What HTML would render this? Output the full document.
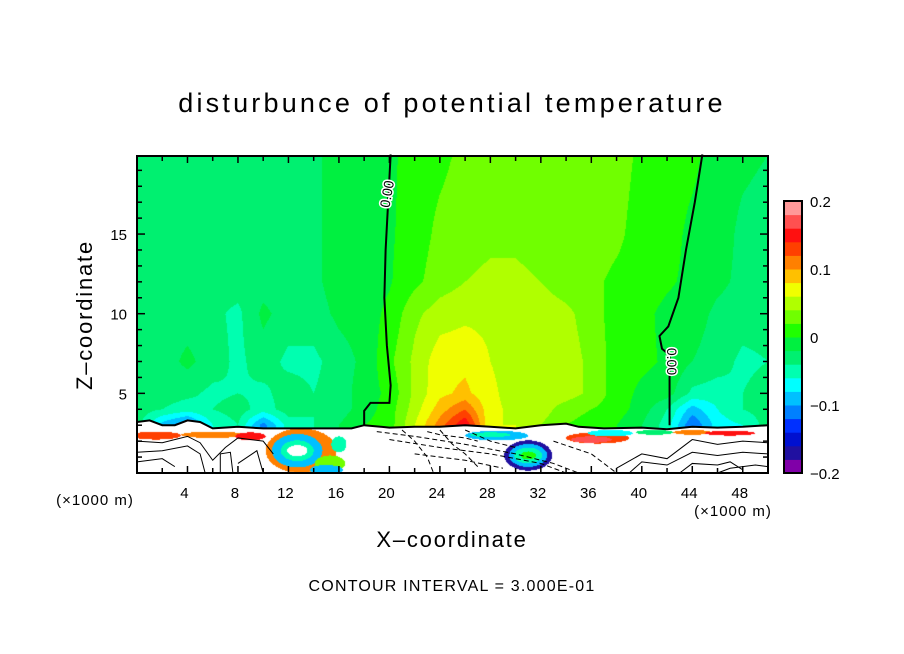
<!DOCTYPE html>
<html><head><meta charset="utf-8"><style>
body{margin:0;background:#fff;width:904px;height:654px;overflow:hidden;font-family:"Liberation Sans",sans-serif}
#root{position:relative;width:904px;height:654px}
canvas{position:absolute;left:137px;top:156px}
svg{position:absolute;left:0;top:0}
</style></head><body><div id="root">
<canvas id="cv" width="631" height="317"></canvas>
<svg id="sv" width="904" height="654"></svg>
</div>
<script>
// ---- data ----
const xGrid=[0,2,4,6,8,10,12,14,16,18,20,22,24,26,28,30,32,34,36,38,40,42,44,46,48,50];
const zGrid=[3,4,5,7,10,12,15,20];
const row3 =[-3,-9,-12,-6,-4,-11,-5,-4,-2,0,1,6,11,16,6,6,4,2,1,0,-2,-5,-12,-7,-6,-3];
const row4 =[-3,-4,-5,-4,-3,-5,-3,-4,-3,-1,1,5,9,12,6.5,5.5,5,3,2,1,-1,-4,-9,-6,-4,-3];
const row5 =[-3,-3,-3.5,-4.5,-4,-4.5,-3,-4,-3,-1,0.5,4.5,7.5,8.5,6.5,5,5,5,3.5,1,-0.5,-1,-4.5,-5,-4,-3];
const row7 =[-3,-3,-1.5,-3,-4.5,-3,-4.5,-4.5,-3,-1.5,1.5,4.5,7.2,7.5,6,5,5,5,3.5,1,0.5,-0.3,-2,-3,-4.5,-4];
const row10=[-3,-3,-3,-3.5,-4.5,-1.5,-3,-3,-1.5,-1,0.5,3.5,5,5.5,5.5,5,5,4.5,3,1,0.5,-0.5,-1,-2.5,-3,-3];
const row12=[-3,-3,-3,-3,-3,-3,-3,-2.5,-1,-1,-0.2,1.5,3,4,4.5,4.5,4,3,2.5,1.5,1,0.3,-0.5,-1.5,-2.5,-3];
const row15=[-3,-3,-3,-3,-3,-3,-3,-2.5,-1,-1,-0.3,1,2.5,3,3.5,3.5,3,3,3,2.5,1,0.8,-0.5,-1,-2.5,-3];
const row20=[-3,-3,-3,-3,-3,-3,-3,-2.5,-1,-1,-0.5,1,1.5,2.5,3,3,3,3,3,3,1.5,1,0.5,-1,-1.5,-2];
const rows=[row3,row4,row5,row7,row10,row12,row15,row20];
// lower-layer patches: [x, z, rx, rz, value(hundredths)]
const patches=[
[1.5,2.35,2,0.25,12],[6,2.4,2.5,0.2,10],[9,2.3,1.2,0.25,14],
[13,1.4,2.8,1.4,11],[12.7,1.4,2,1.05,-9],[12.7,1.4,1.3,0.65,-5],[12.7,1.4,0.8,0.35,99],
[15.3,0.6,1.2,0.5,3],[15,0.2,1.3,0.3,-10],[16,1.8,0.6,0.5,-6],
[28.5,2.35,2.5,0.3,-9],[28,2.4,1.6,0.15,-5],[31,1.1,1.9,0.95,-17],[31,1.1,1.5,0.72,-9],[31,1.1,1.1,0.5,-5],[31,1.1,0.6,0.25,1],
[36.5,2.2,2.5,0.35,12],[36,2.1,1.6,0.2,17],[37.5,2.5,1.8,0.2,-8],[41,2.55,1.5,0.15,-4],
[44,2.55,1.5,0.15,10],[47,2.5,2,0.15,14]
];
const cbLevels=[-0.2,-0.1,0,0.1,0.2];
const cbLabels=["\u22120.2","\u22120.1","0","0.1","0.2"];
const xTickVals=[4,8,12,16,20,24,28,32,36,40,44,48];
const yTickVals=[5,10,15];
// contour lines [x,z]
const zeroLeft=[[20.1,20],[19.9,17],[19.7,14],[19.6,11],[19.8,8],[20.1,5.5],[20.0,4.4],[18.5,4.4],[18.0,3.9],[18.0,3.0]];
const zeroRight=[[44.8,20],[44.2,17],[43.5,14],[42.9,11],[42.1,9.2],[41.4,8.6],[41.6,7.8],[42.2,7.4],[42.2,3.0]];
const boundary=[[0,3.2],[1,3.3],[2,3.0],[3,3.0],[4,3.3],[5,3.2],[6,2.8],[8,2.9],[10,2.8],[12,2.8],[15,2.8],[17,2.8],[18,3.0],[20,2.85],[22,2.9],[24,2.9],[26,3.0],[28,2.9],[30,2.8],[32,3.0],[34,3.1],[35,2.9],[37,2.8],[40,2.85],[42,2.75],[44,2.9],[46,2.85],[48,2.9],[50,3.0]];
const thinLines=[
[[0,2.0],[2,1.9],[4,2.3],[5,1.9],[6,0.8],[7,1.6],[8,2.2],[10,2.0],[10.8,1.2]],
[[0,1.3],[2,1.4],[4,1.7],[5,1.2],[5.4,0]],[[6.6,0],[6.6,1.2],[7.4,1.3],[7.6,0]],
[[8,0.6],[9.5,1.4],[10,0]],[[0,0.7],[2,0.9],[3,0.4]],
[[38,0.3],[40,1.2],[42,0.9],[44,2.1],[46,1.8],[48,2.0],[50,1.9]],
[[39,0],[40,0.7],[42,0.5],[44,1.3],[46,1.1],[48,1.3],[50,1.2]],
[[43,0],[44,0.6],[46,0.5],[47,0.7],[48,0.2]],[[46,0],[47,0.3],[49,0.5],[50,0.4]],
[[19,2.6],[22,2.3],[26,1.8],[30,1.2],[33,0.6],[35,0]],[[20,2.1],[24,1.6],[28,1.2],[32,0.6],[34,0]],
[[22,1.2],[26,0.8],[29,0.3]],[[23,2.6],[24,2.4],[26,2.2],[27,2.0]],
[[21,2.7],[22,2.0],[23,1.0],[23.5,0]],[[24,2.7],[25,1.8],[26,1.2],[27,0.4]],[[26,2.7],[28,2.0],[30,1.6]],[[33,2.0],[36,1.2],[38,0]]
];
// ---- axes ----
const PX0=137,PX1=768,PY0=156,PY1=473,ZMAX=19.9;
const sx=x=>PX0+(x/50)*(PX1-PX0);
const sz=z=>PY1-(z/ZMAX)*(PY1-PY0);
const colors=["#8000a8","#2010a0","#0010d0","#0030ff","#0080ff","#00c0ff","#00ffff","#00ffb0","#00f070","#00f040","#20ff00","#70ff00","#b0ff00","#f0ff00","#ffc000","#ff8000","#ff4000","#ff1010","#ff5050","#ff9999"];
const cb=v=>Math.max(-0.2,Math.min(0.2,v));
function colorOf(v){
  if(v>=90) return [255,255,255];
  let i=Math.floor((v+20)/2); if(i<0||i>19) return [255,255,255];
  const h=colors[i]; return [parseInt(h.substr(1,2),16),parseInt(h.substr(3,2),16),parseInt(h.substr(5,2),16)];
}
function bdry(x){for(let i=0;i<boundary.length-1;i++){const a=boundary[i],b=boundary[i+1];if(x>=a[0]&&x<=b[0])return a[1]+(b[1]-a[1])*(x-a[0])/(b[0]-a[0]);}return 2.9;}
function field(x,z){
  let zi=0; while(zi<zGrid.length-2&&z>zGrid[zi+1])zi++;
  let tz=(Math.max(z,zGrid[0])-zGrid[zi])/(zGrid[zi+1]-zGrid[zi]); tz=Math.max(0,Math.min(1,tz));
  let xi=Math.min(xGrid.length-2,Math.floor(x/2)); let tx=(x-xGrid[xi])/(xGrid[xi+1]-xGrid[xi]);
  const a=rows[zi],b=rows[zi+1];
  const v0=a[xi]+(a[xi+1]-a[xi])*tx, v1=b[xi]+(b[xi+1]-b[xi])*tx;
  return v0+(v1-v0)*tz;
}
const cv=document.getElementById('cv'),ctx=cv.getContext('2d');
const W=cv.width,H=cv.height,img=ctx.createImageData(W,H);
for(let py=0;py<H;py++)for(let px=0;px<W;px++){
  const x=(px+0.5)/W*50, z=(H-py-0.5)/H*ZMAX;
  let v;
  if(z>=bdry(x)) v=field(x,z);
  else{v=99;for(const p of patches){const dx=(x-p[0])/p[2],dz=(z-p[1])/p[3];if(dx*dx+dz*dz<=1)v=p[4];}}
  const c=colorOf(v),k=(py*W+px)*4;img.data[k]=c[0];img.data[k+1]=c[1];img.data[k+2]=c[2];img.data[k+3]=255;
}
ctx.putImageData(img,0,0);
// ---- svg overlay ----
const NS="http://www.w3.org/2000/svg",sv=document.getElementById('sv');
function mk(t,attrs,parent){const e=document.createElementNS(NS,t);for(const k in attrs)e.setAttribute(k,attrs[k]);(parent||sv).appendChild(e);return e;}
function poly(pts,w,dash,name){const e=mk('polyline',{points:pts.map(p=>sx(p[0])+','+sz(p[1])).join(' '),fill:'none',stroke:'#000','stroke-width':w});if(dash)e.setAttribute('stroke-dasharray',dash);

}
poly(zeroLeft,2,null,'zero-contour-left');
poly(zeroRight,2,null,'zero-contour-right');
poly(boundary,2,null,'zero-contour-boundary');
thinLines.forEach((l,i)=>poly(l,1,(l[0][0]>=19&&l[0][0]<=34)?'5,3':null,'thin-contour'));
function txt(s,x,y,size,opts){const e=mk('text',Object.assign({x:x,y:y,'font-size':size,'font-family':'Liberation Sans, sans-serif',fill:'#000'},opts||{}));e.textContent=s;return e;}
let l1=txt('0.00',sx(19.9),sz(17.5),14,{transform:`rotate(-80 ${sx(19.9)} ${sz(17.5)})`,'text-anchor':'middle','dominant-baseline':'middle',stroke:'#fff','stroke-width':3,'paint-order':'stroke'});


let l2=txt('0.00',sx(42.3),sz(7.0),14,{transform:`rotate(90 ${sx(42.3)} ${sz(7.0)})`,'text-anchor':'middle','dominant-baseline':'middle',stroke:'#fff','stroke-width':3,'paint-order':'stroke'});


let fr=mk('rect',{x:PX0,y:PY0,width:PX1-PX0,height:PY1-PY0,fill:'none',stroke:'#000','stroke-width':2});


for(let x=2;x<50;x+=2){const L=(x%4===0)?7:5;mk('line',{x1:sx(x),x2:sx(x),y1:PY1,y2:PY1-L,stroke:'#000','stroke-width':1.5});mk('line',{x1:sx(x),x2:sx(x),y1:PY0,y2:PY0+L,stroke:'#000','stroke-width':1.5});}
for(let z=1;z<20;z++){const L=(z%5===0)?8:5;mk('line',{x1:PX0,x2:PX0+L,y1:sz(z),y2:sz(z),stroke:'#000','stroke-width':1.5});mk('line',{x1:PX1,x2:PX1-L,y1:sz(z),y2:sz(z),stroke:'#000','stroke-width':1.5});}
xTickVals.forEach(v=>{const t=txt(String(v),sx(v)-3,498,15,{'text-anchor':'middle'});

});
yTickVals.forEach(v=>{const t=txt(String(v),127,sz(v)+6,15,{'text-anchor':'end'});

});
const CBX=784,CBW=18,CBT=201,CBB=473,bh=(CBB-CBT)/20;
colors.forEach((c,i)=>{const r=mk('rect',{x:CBX,y:CBB-(i+1)*bh,width:CBW,height:bh+0.5,fill:c});

});
mk('rect',{x:CBX,y:CBT,width:CBW,height:CBB-CBT,fill:'none',stroke:'#000','stroke-width':2});
const cby=v=>CBB-(cb(v)+0.2)/0.4*(CBB-CBT);
cbLevels.forEach((v,i)=>{const t=txt(cbLabels[i],810,cby(v)+6,15);

});
let t;
t=txt('disturbunce of potential temperature',452,112,27,{'text-anchor':'middle','letter-spacing':'3.2'});
t=txt('(×1000 m)',95,505,15,{'text-anchor':'middle','letter-spacing':'1'});
t=txt('(×1000 m)',733,516,15,{'text-anchor':'middle','letter-spacing':'1'});
t=txt('X\u2013coordinate',452,547,22,{'text-anchor':'middle','letter-spacing':'1.8'});
t=txt('Z\u2013coordinate',92,315,22,{'text-anchor':'middle','letter-spacing':'1.8',transform:'rotate(-90 92 315)'});
t=txt('CONTOUR INTERVAL = 3.000E-01',452,591,16,{'text-anchor':'middle','letter-spacing':'1.2'});
</script></body></html>
